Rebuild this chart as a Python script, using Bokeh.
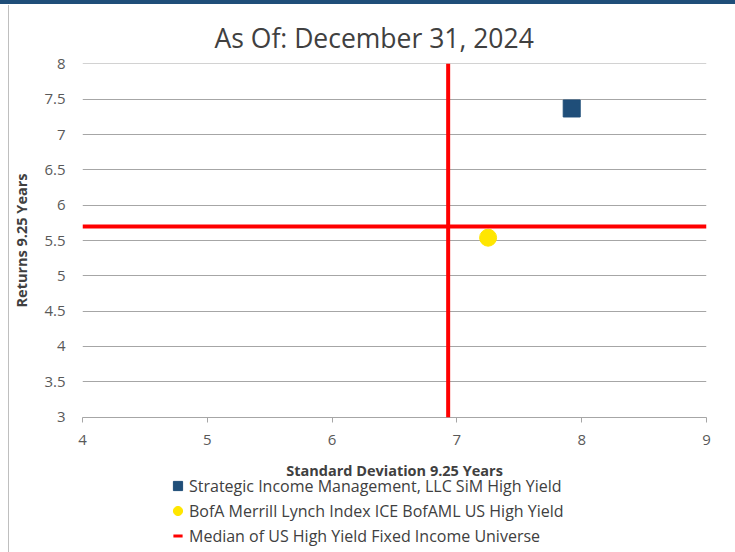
from bokeh.plotting import figure
from bokeh.layouts import column
from bokeh.models import Span, Legend, LegendItem, FixedTicker, Range1d
from bokeh.embed import file_html
from bokeh.resources import INLINE

# ---- data ----
title_text = "As Of: December 31, 2024"
x_label = "Standard Deviation 9.25 Years"
y_label = "Returns 9.25 Years"

sim_name = "Strategic Income Management, LLC SiM High Yield"
sim_sd = [7.92]
sim_ret = [7.37]

bofa_name = "BofA Merrill Lynch Index ICE BofAML US High Yield"
bofa_sd = [7.25]
bofa_ret = [5.54]

median_name = "Median of US High Yield Fixed Income Universe"
median_sd = [6.93]
median_ret = [5.70]

x_ticks = [4, 5, 6, 7, 8, 9]
y_ticks = [3, 3.5, 4, 4.5, 5, 5.5, 6, 6.5, 7, 7.5, 8]

FONT = "Open Sans"
TXT = "#404040"
GRID = "#a6a6a6"
SIM_COLOR = "#1f4e79"
BOFA_COLOR = "#ffe600"
MED_COLOR = "#ff0000"

TOP_H = 482
OVERLAP = 10

# ---------------- chart ----------------
p = figure(width=735, height=TOP_H, output_backend="svg", toolbar_location=None,
           x_range=Range1d(4, 9), y_range=Range1d(2.993, 8.007),
           min_border_left=82, min_border_right=29, min_border_top=63,
           min_border_bottom=TOP_H - 419)
p.outline_line_color = None
p.background_fill_color = "white"
p.border_fill_alpha = 0
p.styles = {
    "background": "linear-gradient(#1f4e79, #1f4e79) 0 0 / 100% 4px no-repeat, "
                  "linear-gradient(#bfbfbf, #bfbfbf) 8px 5px / 1px 100% no-repeat, white"
}

# title
p.title.text = title_text
p.title.align = "left"
p.title.offset = 132
p.title.standoff = 15
p.title.text_font = FONT
p.title.text_font_style = "normal"
p.title.text_font_size = "26.5px"
p.title.text_color = TXT

# grid
p.xgrid.visible = False
p.ygrid.ticker = FixedTicker(ticks=y_ticks)
p.ygrid.grid_line_color = GRID
p.ygrid.grid_line_width = 1

# x axis
p.xaxis.ticker = FixedTicker(ticks=x_ticks)
p.xaxis.axis_line_color = GRID
p.xaxis.major_tick_line_color = GRID
p.xaxis.major_tick_out = 5
p.xaxis.major_tick_in = 0
p.xaxis.minor_tick_line_color = None
p.xaxis.major_label_standoff = 12
p.xaxis.major_label_text_font = FONT
p.xaxis.major_label_text_font_size = "15px"
p.xaxis.major_label_text_color = "#595959"
p.xaxis.axis_label = x_label
p.xaxis.axis_label_text_font = FONT
p.xaxis.axis_label_text_font_style = "bold"
p.xaxis.axis_label_text_font_size = "14.5px"
p.xaxis.axis_label_text_color = TXT
p.xaxis.axis_label_standoff = 13

# y axis
p.yaxis.ticker = FixedTicker(ticks=y_ticks)
p.yaxis.axis_line_color = None
p.yaxis.major_tick_line_color = None
p.yaxis.minor_tick_line_color = None
p.yaxis.major_tick_out = 0
p.yaxis.major_label_standoff = 17
p.yaxis.major_label_text_font = FONT
p.yaxis.major_label_text_font_size = "15px"
p.yaxis.major_label_text_color = "#595959"
p.yaxis.axis_label = y_label
p.yaxis.axis_label_text_font = FONT
p.yaxis.axis_label_text_font_style = "bold"
p.yaxis.axis_label_text_font_size = "14.5px"
p.yaxis.axis_label_text_color = TXT
p.yaxis.axis_label_standoff = 10

# median lines
p.add_layout(Span(location=median_sd[0], dimension="height",
                  line_color=MED_COLOR, line_width=4))
p.add_layout(Span(location=median_ret[0], dimension="width",
                  line_color=MED_COLOR, line_width=4))

p.scatter(sim_sd, sim_ret, marker="square", size=17,
          fill_color=SIM_COLOR, line_color=SIM_COLOR)
p.scatter(bofa_sd, bofa_ret, marker="circle", size=17,
          fill_color=BOFA_COLOR, line_color=BOFA_COLOR)

# ---------------- legend strip ----------------
q = figure(width=735, height=552 - TOP_H + OVERLAP, output_backend="svg",
           toolbar_location=None, x_axis_location=None, y_axis_location=None,
           x_range=Range1d(0, 1), y_range=Range1d(0, 1), min_border=0)
q.outline_line_color = None
q.xgrid.visible = False
q.ygrid.visible = False
q.background_fill_alpha = 0
q.border_fill_alpha = 0
q.styles = {
    "margin-top": f"-{OVERLAP}px",
    "background": "linear-gradient(#bfbfbf, #bfbfbf) 8px 0 / 1px 100% no-repeat",
}
# the series drawn here only feed the legend (their values lie outside this strip's range)
l_sim = q.scatter(sim_sd, sim_ret, marker="square",
                  fill_color=SIM_COLOR, line_color=SIM_COLOR)
l_bofa = q.scatter(bofa_sd, bofa_ret, marker="circle",
                   fill_color=BOFA_COLOR, line_color=BOFA_COLOR)
l_med = q.scatter(median_sd, median_ret, marker="dash",
                  line_color=MED_COLOR, line_width=3)

legend = Legend(items=[LegendItem(label=sim_name, renderers=[l_sim]),
                       LegendItem(label=bofa_name, renderers=[l_bofa]),
                       LegendItem(label=median_name, renderers=[l_med])],
                location=(84, 5), orientation="vertical",
                glyph_width=23, glyph_height=23, label_height=23,
                spacing=2, padding=0, margin=0, label_standoff=-2,
                label_text_font=FONT, label_text_font_size="16px",
                label_text_color=TXT, border_line_color=None,
                background_fill_alpha=0)
q.add_layout(legend)

layout = column(p, q, spacing=0)
open("out.html", "w").write(file_html(layout, INLINE))
